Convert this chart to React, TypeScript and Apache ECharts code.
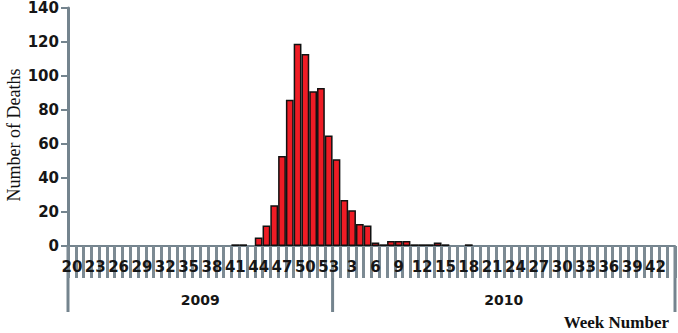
import React, { useEffect, useRef } from "react";
import * as echarts from "echarts";

// Week numbers of each season (x categories)
const weeks2009 = [20,21,22,23,24,25,26,27,28,29,30,31,32,33,34,35,36,37,38,39,40,41,42,43,44,45,46,47,48,49,50,51,52,53];
const weeks2010 = [1,2,3,4,5,6,7,8,9,10,11,12,13,14,15,16,17,18,19,20,21,22,23,24,25,26,27,28,29,30,31,32,33,34,35,36,37,38,39,40,41,42,43,44];

// Number of deaths per week
const deaths2009 = [0,0,0,0,0,0,0,0,0,0,0,0,0,0,0,0,0,0,0,0,0,1,1,0,5,12,24,53,86,119,113,91,93,65];
const deaths2010 = [51,27,21,13,12,2,1,3,3,3,1,1,1,2,1,0,0,1,0,0,0,0,0,0,0,0,0,0,0,0,0,0,0,0,0,0,0,0,0,0,0,0,0,0];

const yearLabels = ["2009", "2010"];
const yTicks = { min: 0, max: 140, interval: 20 };

const GRAY = "#74848e";
const TICK = "#7c8a93";
const FONT = "DejaVu Sans";

export default function App() {
  const ref = useRef<HTMLDivElement>(null);

  useEffect(() => {
    if (!ref.current) return;
    const chart = echarts.init(ref.current, null, { renderer: "svg" });
    const categories = [
      ...weeks2009.map((w) => "2009-" + w),
      ...weeks2010.map((w) => "2010-" + w),
    ];
    const values = [...deaths2009, ...deaths2010].map((v) => (v === 0 ? "-" : v));

    chart.setOption({
      animation: false,
      backgroundColor: "#ffffff",
      grid: { left: 68, right: 3, top: 8, bottom: 87, outerBoundsMode: "none" },
      xAxis: {
        type: "category",
        data: categories,
        boundaryGap: true,
        axisLine: { show: true, lineStyle: { color: GRAY, width: 2 } },
        axisTick: { show: true, interval: 0, length: 32, lineStyle: { color: TICK, width: 3 } },
        axisLabel: {
          interval: 2,
          margin: 13,
          fontSize: 15,
          fontWeight: "bold",
          color: "#161616",
          fontFamily: FONT,
          formatter: (v: string) => v.split("-")[1],
        },
        splitLine: { show: false },
      },
      yAxis: {
        type: "value",
        min: yTicks.min,
        max: yTicks.max,
        interval: yTicks.interval,
        axisLine: { show: true, lineStyle: { color: GRAY, width: 3 } },
        axisTick: { show: true, length: 7, lineStyle: { color: GRAY, width: 2 } },
        axisLabel: { fontSize: 15, fontWeight: "bold", color: "#161616", fontFamily: FONT, margin: 9 },
        splitLine: { show: false },
      },
      series: [
        {
          type: "bar",
          data: values,
          barCategoryGap: "0%",
          itemStyle: { color: "#ee1c25", borderColor: "#111111", borderWidth: 1.5 },
        },
      ],
    });

    const px0 = chart.convertToPixel({ xAxisIndex: 0 }, 0) as number;
    const px1 = chart.convertToPixel({ xAxisIndex: 0 }, 1) as number;
    const cw = px1 - px0;
    const left = px0 - cw / 2;
    const split = (chart.convertToPixel({ xAxisIndex: 0 }, weeks2009.length) as number) - cw / 2;
    const right = (chart.convertToPixel({ xAxisIndex: 0 }, categories.length - 1) as number) + cw / 2;
    const y0 = chart.convertToPixel({ yAxisIndex: 0 }, 0) as number;
    const yTop = chart.convertToPixel({ yAxisIndex: 0 }, yTicks.max) as number;

    const vline = (x: number) => ({
      type: "line",
      shape: { x1: x, y1: y0, x2: x, y2: y0 + 66 },
      style: { stroke: GRAY, lineWidth: 3 },
      silent: true,
    });
    const ytext = (x: number, t: string) => ({
      type: "text",
      x,
      y: y0 + 54,
      style: {
        text: t,
        fontSize: 14,
        fontWeight: "bold",
        fontFamily: FONT,
        fill: "#161616",
        align: "center",
        verticalAlign: "middle",
      },
    });

    chart.setOption({
      graphic: [
        vline(left),
        vline(split),
        vline(right),
        ytext((left + split) / 2, yearLabels[0]),
        ytext((split + right) / 2, yearLabels[1]),
        {
          type: "text",
          x: 14,
          y: (y0 + yTop) / 2 + 8,
          rotation: Math.PI / 2,
          style: {
            text: "Number of Deaths",
            fontSize: 18,
            fontFamily: "Liberation Serif",
            fill: "#111111",
            align: "center",
            verticalAlign: "middle",
          },
        },
        {
          type: "text",
          x: right - 6,
          y: y0 + 76,
          style: {
            text: "Week Number",
            fontSize: 17,
            fontWeight: "bold",
            fontFamily: "Liberation Serif",
            fill: "#111111",
            align: "right",
            verticalAlign: "middle",
          },
        },
      ],
    });

    return () => chart.dispose();
  }, []);

  return (
    <div
      ref={ref}
      style={{ position: "fixed", left: 0, top: 0, width: 678, height: 333, background: "#fff" }}
    />
  );
}
